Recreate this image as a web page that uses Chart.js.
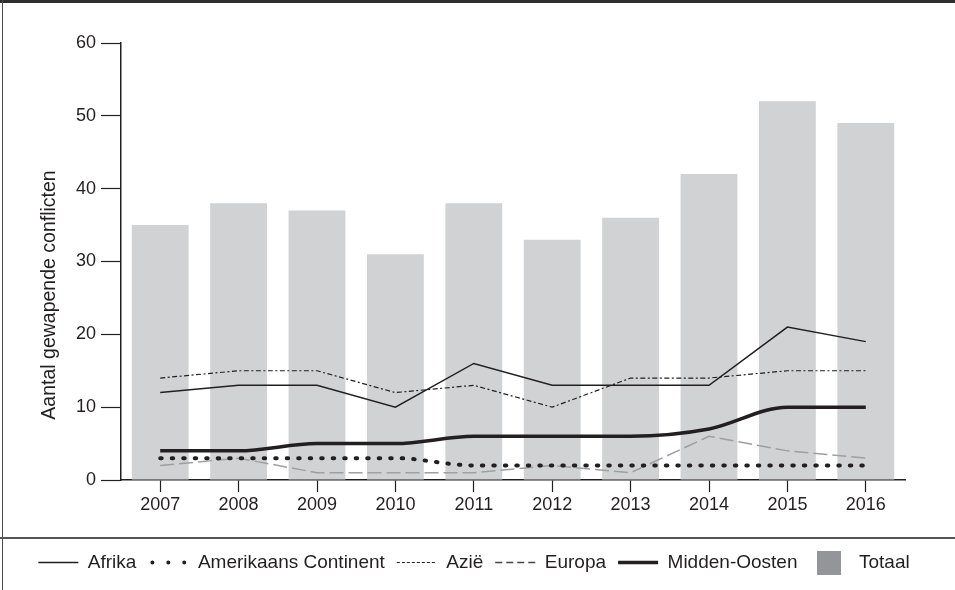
<!DOCTYPE html>
<html>
<head>
<meta charset="utf-8">
<script src="https://cdn.jsdelivr.net/npm/chart.js@4.4.1/dist/chart.umd.min.js"></script>
<style>
html,body{margin:0;padding:0;background:#fff;}
#wrap{position:relative;width:955px;height:590px;overflow:hidden;background:#fff;}
#c{position:absolute;left:0;top:0;}
#topbar{position:absolute;left:0;top:0;width:955px;height:3px;background:#2e2e2e;}
#leftbar{position:absolute;left:2px;top:0;width:1px;height:590px;background:#4a4a4a;}
#sep{position:absolute;left:0;top:537px;width:955px;height:2px;background:#555;}
</style>
</head>
<body>
<div id="wrap">
<canvas id="c" width="955" height="590"></canvas>
<div id="topbar"></div><div id="leftbar"></div><div id="sep"></div>
</div>
<script>
// ---- data ----
const years = ['2007','2008','2009','2010','2011','2012','2013','2014','2015','2016'];
const afrika = [12, 13, 13, 10, 16, 13, 13, 13, 21, 19];
const amerikaansContinent = [3, 3, 3, 3, 2, 2, 2, 2, 2, 2];
const azie = [14, 15, 15, 12, 13, 10, 14, 14, 15, 15];
const europa = [2, 3, 1, 1, 1, 2, 1, 6, 4, 3];
const middenOosten = [4, 4, 5, 5, 6, 6, 6, 7, 10, 10];
const totaal = [35, 38, 37, 31, 38, 33, 36, 42, 52, 49];
const yTicks = [0, 10, 20, 30, 40, 50, 60];
const yTitle = 'Aantal gewapende conflicten';

const INK = '#231f20';
const FONT = "'Liberation Sans', Arial, sans-serif";

// square swatch for the bar legend item
const swatch = document.createElement('canvas');
swatch.width = 24; swatch.height = 24;
(function(){ const g = swatch.getContext('2d'); g.fillStyle = '#939598'; g.fillRect(0,0,24,24); })();

const yTitlePlugin = {
  id: 'yTitle',
  afterDraw(chart) {
    const ctx = chart.ctx;
    ctx.save();
    ctx.translate(50, 295);
    ctx.rotate(-Math.PI / 2);
    ctx.font = '19.5px ' + FONT;
    ctx.fillStyle = INK;
    ctx.textAlign = 'center';
    ctx.textBaseline = 'middle';
    ctx.fillText(yTitle, 0, 0);
    ctx.restore();
  }
};

new Chart(document.getElementById('c'), {
  type: 'bar',
  data: {
    labels: years,
    datasets: [
      { type: 'line', label: 'Afrika', data: afrika, borderColor: INK, borderWidth: 1.5,
        pointRadius: 0, tension: 0, order: 0 },
      { type: 'line', label: 'Amerikaans Continent', data: amerikaansContinent, borderColor: INK,
        borderWidth: 4, borderDash: [1.5, 10], borderCapStyle: 'round', pointRadius: 0,
        cubicInterpolationMode: 'monotone', order: 0, legendDash: [0.01, 15.9] },
      { type: 'line', label: 'Azië', data: azie, borderColor: INK, borderWidth: 1.2,
        borderDash: [5, 2.5, 2, 2.5], pointRadius: 0, tension: 0, order: 0, legendDash: [3, 2] },
      { type: 'line', label: 'Europa', data: europa, borderColor: '#9d9fa2', borderWidth: 1.5,
        borderDash: [14, 5], pointRadius: 0, tension: 0, order: 0, legendColor: '#444', legendDash: [7, 4] },
      { type: 'line', label: 'Midden-Oosten', data: middenOosten, borderColor: INK, borderWidth: 3.5,
        pointRadius: 0, cubicInterpolationMode: 'monotone', order: 0 },
      { type: 'bar', label: 'Totaal', data: totaal, backgroundColor: '#d1d2d4', borderWidth: 0,
        barPercentage: 0.725, categoryPercentage: 1, order: 1 }
    ]
  },
  options: {
    responsive: false,
    animation: false,
    devicePixelRatio: 1,
    layout: { padding: { top: 43, left: 3, right: 10, bottom: 8 } },
    plugins: {
      tooltip: { enabled: false },
      legend: {
        position: 'bottom',
        labels: {
          usePointStyle: true,
          pointStyleWidth: 40,
          padding: 12,
          color: INK,
          font: { family: FONT, size: 19 },
          generateLabels(chart) {
            return chart.data.datasets.map((ds, i) => ({
              text: ds.label,
              fillStyle: 'rgba(0,0,0,0)',
              strokeStyle: ds.legendColor || ds.borderColor || INK,
              lineWidth: ds.type === 'bar' ? 0 : ds.borderWidth,
              lineDash: ds.legendDash || ds.borderDash || [],
              lineDashOffset: ds.legendDash && ds.borderCapStyle === 'round' ? -4 : 0,
              lineCap: ds.borderCapStyle || 'butt',
              pointStyle: ds.type === 'bar' ? swatch : 'line',
              fontColor: INK,
              hidden: false,
              datasetIndex: i
            }));
          }
        }
      }
    },
    scales: {
      x: {
        offset: true,
        grid: { display: true, drawOnChartArea: false, offset: false, drawTicks: true,
                tickLength: 12, color: INK, tickColor: INK, tickWidth: 1.2 },
        border: { display: true, color: INK, width: 1.5 },
        ticks: { color: INK, font: { family: FONT, size: 18 }, padding: 2, maxRotation: 0 },
        afterFit(scale) { scale.height = 61; }
      },
      y: {
        min: 0, max: 60,
        afterBuildTicks(scale) { scale.ticks = yTicks.map(v => ({ value: v })); },
        grid: { display: true, drawOnChartArea: false, drawTicks: true, tickLength: 20,
                color: INK, tickColor: INK, tickWidth: 1.2 },
        border: { display: true, color: INK, width: 1.5 },
        ticks: { color: INK, font: { family: FONT, size: 18 }, padding: 5 },
        afterFit(scale) { scale.width = 118; }
      },
      yRightSpace: {
        position: 'right',
        display: true,
        grid: { display: false, drawTicks: false },
        border: { display: false },
        ticks: { display: false },
        afterFit(scale) { scale.width = 40; }
      }
    }
  },
  plugins: [yTitlePlugin]
});
</script>
</body>
</html>
